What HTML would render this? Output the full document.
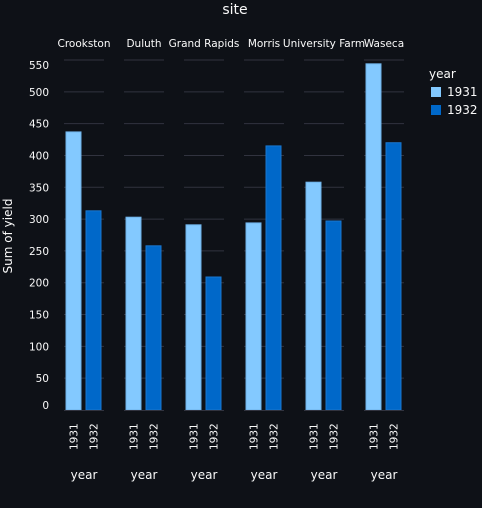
<!DOCTYPE html>
<html><head><meta charset="utf-8"><style>
html,body{margin:0;padding:0;background:#0e1117;}
svg{display:block;font-family:"DejaVu Sans","Liberation Sans",sans-serif;}
</style></head><body>
<svg id="c" width="482" height="508" xmlns="http://www.w3.org/2000/svg">
<rect width="482" height="508" fill="#0e1117"/>
<text x="235" y="14" fill="#fafafa" font-size="14" text-anchor="middle">site</text>
<text transform="translate(12,236) rotate(-90)" fill="#fafafa" font-size="12" text-anchor="middle">Sum of yield</text>
<g id="yaxis"></g>
<g id="facets"></g>
<g>
<text x="429" y="78" fill="#fafafa" font-size="12">year</text>
<g><rect x="431" y="87" width="10" height="10" fill="#83c9ff"/><text x="447" y="96" fill="#fafafa" font-size="12">1931</text></g>
<g><rect x="431" y="105" width="10" height="10" fill="#0068c9"/><text x="447" y="114" fill="#fafafa" font-size="12">1932</text></g>
</g>
</svg>
<script>
const sites=["Crookston","Duluth","Grand Rapids","Morris","University Farm","Waseca"];
const years=["1931","1932"];
const y1931=[437,303,291,294,358,544];
const y1932=[313,258,209,415,297,420];
const yTicks=[0,50,100,150,200,250,300,350,400,450,500,550];
const NS="http://www.w3.org/2000/svg";
const fg=document.getElementById('facets'), ya=document.getElementById('yaxis');
const y0=410, k=350/550;
const y=v=>y0-v*k;
const fx=i=>64+i*60;
function mk(t,a,p){const e=document.createElementNS(NS,t);for(const q in a)e.setAttribute(q,a[q]);p.appendChild(e);return e;}
const maxT=yTicks[yTicks.length-1], minT=yTicks[0];
yTicks.forEach(t=>{
  let off=4; if(t===maxT) off=9; if(t===minT) off=-1;
  const tx=mk('text',{x:49,y:y(t)+off,fill:'#fafafa','font-size':10.5,'text-anchor':'end'},ya);
  tx.textContent=t;
  
  
});
const cols=["#83c9ff","#0068c9"];
sites.forEach((s,i)=>{
  const g=mk('g',{},fg);
  
  
  const x=fx(i);
  yTicks.forEach(t=>{ if(t>0){const l=mk('line',{x1:x,x2:x+40,y1:y(t),y2:y(t),stroke:'#31333f','stroke-width':1},g);
    
    }});
  const lab=mk('text',{x:x+20,y:47,fill:'#fafafa','font-size':10.5,'text-anchor':'middle'},g);
  lab.textContent=s;
  
  
  [y1931[i],y1932[i]].forEach((v,j)=>{
    const bx=x+2+j*20;
    const r=mk('rect',{x:bx,y:y(v),width:15,height:y0-y(v),fill:cols[j],stroke:j?'#1a78d0':'#6fb3ea','stroke-width':1},g);
    
    
    const tl=mk('text',{transform:`translate(${bx+11.5},${450}) rotate(-90)`,fill:'#fafafa','font-size':10.5},g);
    tl.textContent=years[j];
    
    
  });
  const ax=mk('line',{x1:x,x2:x+40,y1:y0+0.5,y2:y0+0.5,stroke:'#31333f','stroke-width':1},g);
  
  
  const xt=mk('text',{x:x+20,y:479,fill:'#fafafa','font-size':12,'text-anchor':'middle'},g);
  xt.textContent='year';
  
  
});
</script>
</body></html>
